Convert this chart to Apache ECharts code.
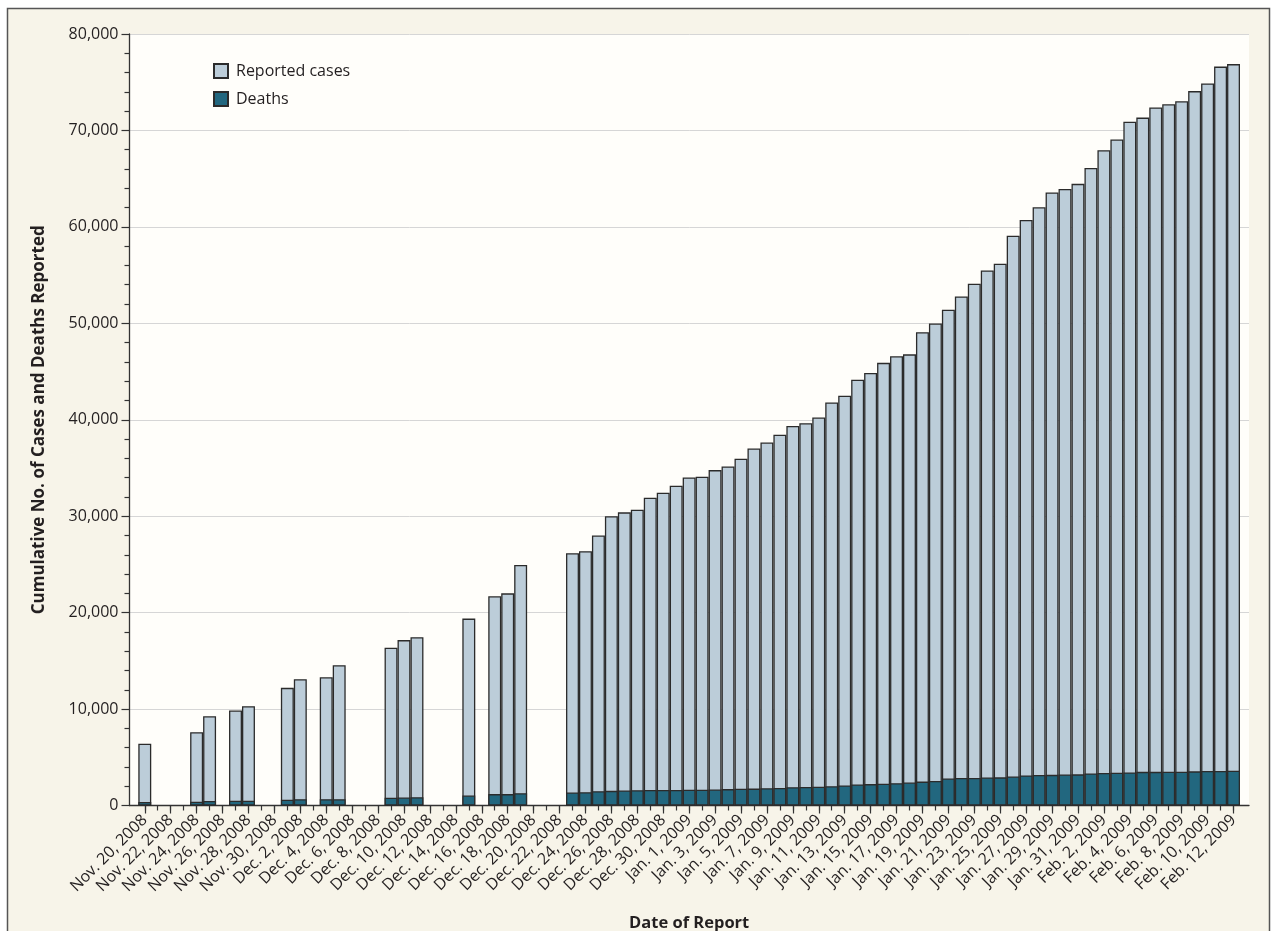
<!DOCTYPE html>
<html>
<head>
<meta charset="utf-8">
<script src="https://cdn.jsdelivr.net/npm/echarts@6/dist/echarts.min.js"></script>
<style>
  html, body { margin: 0; padding: 0; background: #ffffff; }
  #chart { width: 1273px; height: 931px; }
</style>
</head>
<body>
<div id="chart"></div>
<script>
// Daily report dates, Nov. 20, 2008 – Feb. 12, 2009
const categories = [
  'Nov. 20, 2008','Nov. 21, 2008','Nov. 22, 2008','Nov. 23, 2008','Nov. 24, 2008','Nov. 25, 2008',
  'Nov. 26, 2008','Nov. 27, 2008','Nov. 28, 2008','Nov. 29, 2008','Nov. 30, 2008',
  'Dec. 1, 2008','Dec. 2, 2008','Dec. 3, 2008','Dec. 4, 2008','Dec. 5, 2008','Dec. 6, 2008',
  'Dec. 7, 2008','Dec. 8, 2008','Dec. 9, 2008','Dec. 10, 2008','Dec. 11, 2008','Dec. 12, 2008',
  'Dec. 13, 2008','Dec. 14, 2008','Dec. 15, 2008','Dec. 16, 2008','Dec. 17, 2008','Dec. 18, 2008',
  'Dec. 19, 2008','Dec. 20, 2008','Dec. 21, 2008','Dec. 22, 2008','Dec. 23, 2008','Dec. 24, 2008',
  'Dec. 25, 2008','Dec. 26, 2008','Dec. 27, 2008','Dec. 28, 2008','Dec. 29, 2008','Dec. 30, 2008',
  'Dec. 31, 2008',
  'Jan. 1, 2009','Jan. 2, 2009','Jan. 3, 2009','Jan. 4, 2009','Jan. 5, 2009','Jan. 6, 2009',
  'Jan. 7, 2009','Jan. 8, 2009','Jan. 9, 2009','Jan. 10, 2009','Jan. 11, 2009','Jan. 12, 2009',
  'Jan. 13, 2009','Jan. 14, 2009','Jan. 15, 2009','Jan. 16, 2009','Jan. 17, 2009','Jan. 18, 2009',
  'Jan. 19, 2009','Jan. 20, 2009','Jan. 21, 2009','Jan. 22, 2009','Jan. 23, 2009','Jan. 24, 2009',
  'Jan. 25, 2009','Jan. 26, 2009','Jan. 27, 2009','Jan. 28, 2009','Jan. 29, 2009','Jan. 30, 2009',
  'Jan. 31, 2009',
  'Feb. 1, 2009','Feb. 2, 2009','Feb. 3, 2009','Feb. 4, 2009','Feb. 5, 2009','Feb. 6, 2009',
  'Feb. 7, 2009','Feb. 8, 2009','Feb. 9, 2009','Feb. 10, 2009','Feb. 11, 2009','Feb. 12, 2009'
];

// Cumulative reported cases (null = no report that day)
const reportedCases = [
  6400, null, null, null, 7600, 9250, null, 9850, 10300, null, null,
  12200, 13100, null, 13300, 14550, null, null, null, 16350, 17150, 17450,
  null, null, null, 19380, null, 21700, 22000, 24950, null, null, null,
  26160, 26370, 27990, 29990, 30400, 30680, 31920, 32440, 33160,
  34020, 34090, 34780, 35160, 35950, 37020, 37640, 38450, 39350, 39650,
  40230, 41800, 42500, 44150, 44850, 45900, 46580, 46780, 49080, 49980,
  51410, 52790, 54110, 55480, 56170, 59080, 60710, 62030, 63570, 63940, 64460,
  66100, 67950, 69060, 70910, 71330, 72390, 72710, 73020, 74080, 74870, 76620, 76880
];

// Cumulative deaths
const deaths = [
  370, null, null, null, 400, 470, null, 490, 490, null, null,
  590, 660, null, 660, 660, null, null, null, 800, 830, 860,
  null, null, null, 1030, null, 1180, 1180, 1280, null, null, null,
  1350, 1380, 1490, 1520, 1560, 1590, 1600, 1610, 1620,
  1630, 1640, 1660, 1700, 1730, 1750, 1790, 1810, 1900, 1920,
  1950, 2000, 2080, 2180, 2220, 2250, 2320, 2380, 2480, 2540,
  2800, 2850, 2860, 2900, 2920, 3010, 3120, 3170, 3180, 3220, 3230,
  3330, 3380, 3400, 3430, 3490, 3490, 3500, 3510, 3540, 3590, 3590, 3600
];

const seriesNames = ['Reported cases', 'Deaths'];
const yTickStep = 10000;
const yMax = 80000;

const FONT = '"Open Sans", Lato, sans-serif';
const INK = '#231f20';

const chart = echarts.init(document.getElementById('chart'), null, { renderer: 'canvas' });

chart.setOption({
  backgroundColor: '#ffffff',
  animation: false,
  textStyle: { fontFamily: FONT, color: INK },
  graphic: [{
    type: 'rect',
    z: -100,
    silent: true,
    shape: { x: 7.5, y: 8.5, width: 1262, height: 940 },
    style: { fill: '#f7f4e9', stroke: '#555555', lineWidth: 1.5 }
  }],
  legend: {
    data: seriesNames,
    orient: 'vertical',
    left: 213,
    top: 63,
    padding: 0,
    itemWidth: 14,
    itemHeight: 14,
    itemGap: 12,
    icon: 'rect',
    textStyle: { fontFamily: FONT, fontSize: 16, color: INK, padding: [0, 0, 0, 3] }
  },
  grid: [
    // bar area
    { left: 138.3, right: 33, top: 34, bottom: 125.5, containLabel: false, outerBoundsMode: 'none' },
    // frame with background, y scale and gridlines
    { left: 129.5, right: 24, top: 34, bottom: 125.5, containLabel: false, outerBoundsMode: 'none',
      show: true, backgroundColor: '#fffefa', borderWidth: 0 }
  ],
  xAxis: [
    {
      type: 'category', gridIndex: 0, position: 'bottom', data: categories,
      axisLine: { show: false },
      axisTick: { show: true, interval: 0, alignWithLabel: true, length: 5,
                  lineStyle: { color: '#333', width: 1.2 } },
      axisLabel: { interval: 1, rotate: 45, margin: 12, fontSize: 16, color: INK, fontFamily: FONT },
      name: 'Date of Report', nameLocation: 'middle', nameGap: 109,
      nameTextStyle: { fontFamily: FONT, fontSize: 16.5, fontWeight: 'bold', color: INK }
    },
    {
      type: 'category', gridIndex: 0, position: 'bottom', data: categories,
      axisLine: { show: false },
      axisTick: { show: true, interval: 1, alignWithLabel: true, length: 8,
                  lineStyle: { color: '#333', width: 1.2 } },
      axisLabel: { show: false }
    },
    {
      type: 'value', gridIndex: 1, position: 'bottom', min: 0, max: 1,
      axisLine: { show: true, lineStyle: { color: '#333', width: 1.3 } },
      axisTick: { show: false }, axisLabel: { show: false }, splitLine: { show: false }
    }
  ],
  yAxis: [
    { type: 'value', gridIndex: 0, min: 0, max: yMax, interval: yTickStep, show: false },
    {
      type: 'value', gridIndex: 1, min: 0, max: yMax, interval: yTickStep,
      axisLine: { show: true, lineStyle: { color: '#333', width: 1.3 } },
      axisTick: { show: true, length: 8, lineStyle: { color: '#333', width: 1.2 } },
      minorTick: { show: true, splitNumber: 5, length: 5, lineStyle: { color: '#333', width: 1.2 } },
      axisLabel: { margin: 11, fontSize: 16, color: INK, fontFamily: FONT,
                   formatter: v => v.toLocaleString('en-US') },
      splitLine: { show: true, lineStyle: { color: '#d6d6d6', width: 1 } },
      name: 'Cumulative No. of Cases and Deaths Reported',
      nameLocation: 'middle', nameGap: 82,
      nameTextStyle: { fontFamily: FONT, fontSize: 17, fontWeight: 'bold', color: INK }
    }
  ],
  series: [
    {
      name: seriesNames[0], type: 'bar', xAxisIndex: 0, yAxisIndex: 0,
      data: reportedCases, barCategoryGap: '0%', barGap: '-100%',
      itemStyle: { color: '#bccdd9', borderColor: '#2b2b2b', borderWidth: 1.3 }
    },
    {
      name: seriesNames[1], type: 'bar', xAxisIndex: 0, yAxisIndex: 0,
      data: deaths, barCategoryGap: '0%', barGap: '-100%',
      itemStyle: { color: '#22677f', borderColor: '#2b2b2b', borderWidth: 1.3 }
    }
  ]
});
</script>
</body>
</html>
